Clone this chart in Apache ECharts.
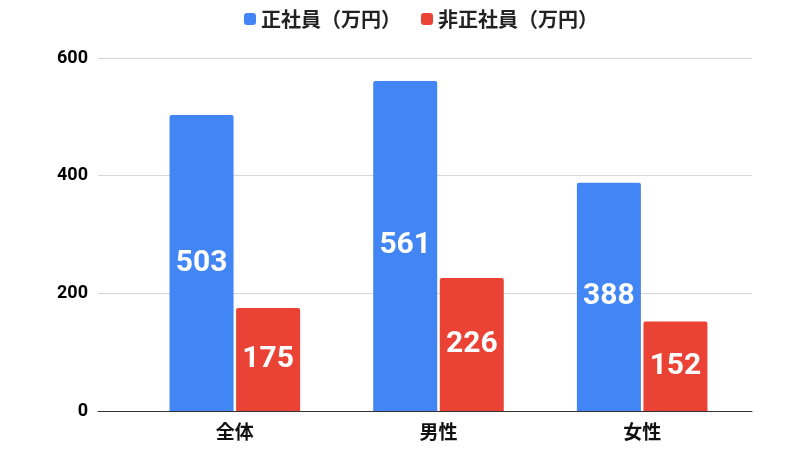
<!DOCTYPE HTML>
<html>
<head>
<meta charset="utf-8">
<title>正社員・非正社員 平均年収</title>
<script src="https://cdn.jsdelivr.net/npm/echarts@6/dist/echarts.min.js"></script>
<style>
    body, div { margin: 0; padding: 0; border: 0; }
    #graphic { width: 800px; height: 450px; }
</style>
</head>
<body>
<div id="graphic"></div>
<script type="text/javascript">
var categories = ['全体', '男性', '女性'];
var seriesNames = ['正社員（万円）', '非正社員（万円）'];
var regular = [503, 561, 388];
var nonRegular = [175, 226, 152];
var yTicks = { min: 0, max: 600, interval: 200 };

var fontJP = '"Noto Sans CJK JP", Roboto, sans-serif';
var fontNum = 'Roboto, "Noto Sans CJK JP", sans-serif';

var barLabel = {
    show: true,
    position: 'inside',
    color: '#fff',
    fontSize: 30,
    fontWeight: 'bold',
    fontFamily: fontNum
};

option = {
    animation: false,
    legend: {
        data: seriesNames,
        top: 4,
        left: 239,
        icon: 'roundRect',
        itemWidth: 12,
        itemHeight: 12,
        itemGap: 20,
        textStyle: { fontSize: 20, fontWeight: 'bold', color: '#222', fontFamily: fontJP }
    },
    // grid 0 carries the gridlines and y labels, grid 1 carries the bars
    grid: [
        { left: 98, right: 48, top: 58, bottom: 39 },
        { left: 133, right: 56, top: 58, bottom: 39 }
    ],
    xAxis: [{
        gridIndex: 0,
        type: 'category',
        data: categories,
        axisLine: { lineStyle: { color: '#333', width: 1 } },
        axisTick: { show: false },
        axisLabel: { show: false }
    }, {
        gridIndex: 1,
        type: 'category',
        data: categories,
        axisLine: { show: false },
        axisTick: { show: false },
        axisLabel: { color: '#111', fontSize: 19, fontWeight: 'bold', fontFamily: fontJP, margin: 11 }
    }],
    yAxis: [{
        gridIndex: 0,
        type: 'value',
        min: yTicks.min,
        max: yTicks.max,
        interval: yTicks.interval,
        axisLine: { show: false },
        axisTick: { show: false },
        splitLine: { lineStyle: { color: '#d6d6d6' } },
        axisLabel: { color: '#000', fontSize: 18, fontWeight: 'bold', fontFamily: fontNum, margin: 10 }
    }, {
        gridIndex: 1,
        type: 'value',
        min: yTicks.min,
        max: yTicks.max,
        interval: yTicks.interval,
        show: false
    }],
    series: [{
        name: seriesNames[0],
        type: 'bar',
        xAxisIndex: 1,
        yAxisIndex: 1,
        data: regular,
        barWidth: 64,
        barGap: '4%',
        itemStyle: { color: '#4285f4', borderRadius: [2, 2, 0, 0] },
        label: barLabel
    }, {
        name: seriesNames[1],
        type: 'bar',
        xAxisIndex: 1,
        yAxisIndex: 1,
        data: nonRegular,
        barWidth: 64,
        itemStyle: { color: '#ea4335', borderRadius: [2, 2, 0, 0] },
        label: barLabel
    }]
};

var myChart = echarts.init(document.getElementById('graphic'));
myChart.setOption(option);
</script>
</body>
</html>
